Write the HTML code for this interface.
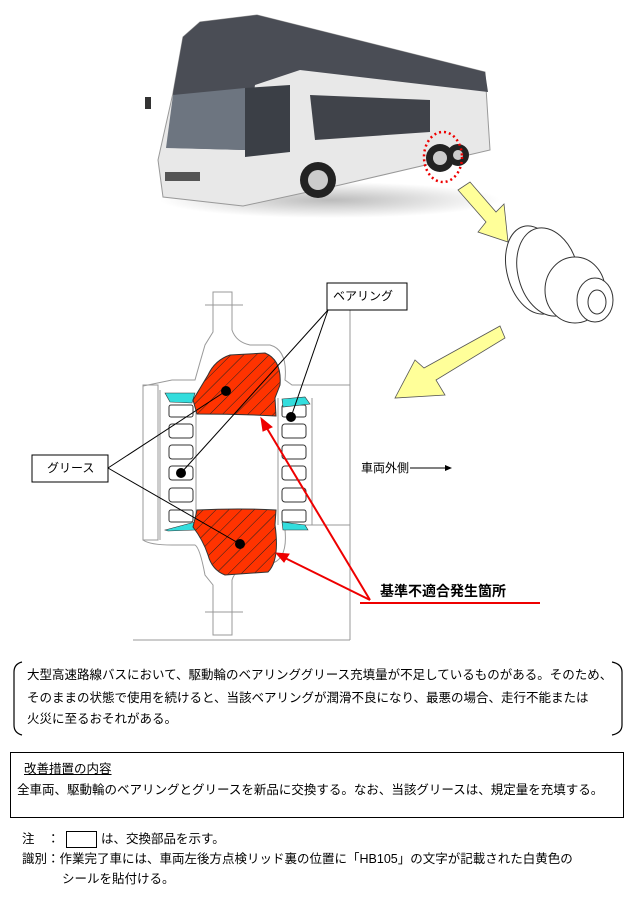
<!DOCTYPE html>
<html><head><meta charset="utf-8"><style>
body{margin:0;background:#fff;width:633px;height:907px;position:relative;overflow:hidden;font-family:"Liberation Sans","Noto Sans CJK JP",sans-serif;color:#000}
.t{position:absolute;font-size:12.5px;white-space:nowrap;line-height:20px}
</style></head><body>
<svg width="633" height="907" style="position:absolute;left:0;top:0">
<defs>
<pattern id="h" width="9" height="9" patternUnits="userSpaceOnUse" patternTransform="rotate(45)"><rect width="9" height="9" fill="#ff3300"/><line x1="0" y1="0" x2="0" y2="9" stroke="#222" stroke-width="1"/></pattern>
<radialGradient id="sh"><stop offset="0" stop-color="#bbb"/><stop offset="1" stop-color="#fff"/></radialGradient>
</defs>
<!-- bus -->
<ellipse cx="330" cy="200" rx="170" ry="18" fill="url(#sh)"/>
<polygon points="183,37 200,22 257,15 485,72 490,150 340,185 243,206 163,197 158,160 173,93" fill="#e8e8e8" stroke="#999" stroke-width="1"/>
<polygon points="183,37 200,22 257,15 485,72 488,92 300,70 255,85 245,150 175,148 173,93" fill="#4a4d55"/>
<polygon points="173,95 245,88 245,150 166,148" fill="#6d7580"/>
<polygon points="245,88 290,85 290,152 245,157" fill="#3b3f46"/>
<polygon points="310,95 430,100 430,132 315,140" fill="#40434a"/>
<rect x="165" y="172" width="35" height="9" fill="#555"/>
<rect x="145" y="97" width="6" height="12" fill="#333"/>
<circle cx="318" cy="180" r="18" fill="#222"/><circle cx="318" cy="180" r="10" fill="#ccc"/>
<circle cx="440" cy="158" r="14" fill="#222"/><circle cx="440" cy="158" r="7" fill="#ccc"/>
<circle cx="458" cy="155" r="11" fill="#222"/><circle cx="458" cy="155" r="5" fill="#ccc"/>
<ellipse cx="443" cy="157" rx="19" ry="25" fill="none" stroke="#e00" stroke-width="2.5" stroke-dasharray="2,3"/>
<!-- small yellow arrow -->
<polygon points="458,190 470,182 496,212 504,204 508,242 478,232 486,222" fill="#ffff99" stroke="#555" stroke-width="0.8"/>
<!-- hub -->
<g fill="#fff" stroke="#333" stroke-width="1">
<ellipse cx="535" cy="270" rx="28" ry="45" transform="rotate(-15 535 270)"/>
<ellipse cx="548" cy="272" rx="30" ry="45" transform="rotate(-15 548 272)"/>
<ellipse cx="575" cy="290" rx="30" ry="33"/>
<ellipse cx="595" cy="300" rx="18" ry="22"/>
<ellipse cx="597" cy="302" rx="9" ry="12"/>
</g>
<!-- big yellow arrow -->
<polygon points="500,326 505,338 436,380 445,395 395,398 415,360 424,368" fill="#ffff99" stroke="#555" stroke-width="0.8"/>
<!-- bearing drawing -->
<g fill="none" stroke="#999" stroke-width="1">
<path d="M213,292 L232,292 L232,330 Q236,342 250,345 L270,345 Q288,350 285,380 L292,385 L350,385 L350,525 L292,525 L285,530 Q288,560 270,564 L250,564 Q236,568 232,580 L232,635 L213,635 L213,585 L205,575 Q200,548 195,545 L172,545 Q150,545 143,540 L143,386 L172,380 L195,380 Q200,362 205,345 L213,332 Z"/>
<line x1="205" y1="305" x2="243" y2="305"/><line x1="205" y1="612" x2="243" y2="612"/>
<line x1="350" y1="305" x2="350" y2="640"/><line x1="133" y1="640" x2="350" y2="640"/>
<rect x="143" y="385" width="15" height="155"/>
<line x1="160" y1="390" x2="160" y2="540"/><line x1="196" y1="400" x2="196" y2="525"/>
<line x1="278" y1="398" x2="278" y2="525"/><line x1="312" y1="398" x2="312" y2="525"/>
</g>
<g fill="#fff" stroke="#333" stroke-width="1">
<rect x="169" y="405" width="24" height="12" rx="2"/><rect x="169" y="424" width="24" height="14" rx="3"/><rect x="169" y="445" width="24" height="14" rx="3"/><rect x="169" y="466" width="24" height="14" rx="3"/><rect x="169" y="488" width="24" height="14" rx="3"/><rect x="169" y="510" width="24" height="12" rx="2"/>
<rect x="282" y="405" width="24" height="12" rx="2"/><rect x="282" y="424" width="24" height="14" rx="3"/><rect x="282" y="445" width="24" height="14" rx="3"/><rect x="282" y="466" width="24" height="14" rx="3"/><rect x="282" y="488" width="24" height="14" rx="3"/><rect x="282" y="510" width="24" height="12" rx="2"/>
</g>
<g fill="#33dddd" stroke="#333" stroke-width="0.6">
<polygon points="165,393 195,393 192,403 170,402"/><polygon points="282,399 305,397 310,404 283,407"/>
<polygon points="165,530 195,522 195,530 168,531"/><polygon points="282,522 305,525 308,530 283,530"/>
</g>
<path d="M193,400 Q202,385 208,375 Q215,360 230,355 L265,353 Q282,360 280,385 L275,398 L276,416 Q240,414 197,414 Z" fill="url(#h)" stroke="#333"/>
<path d="M197,510 Q240,508 276,510 L275,525 Q280,560 268,572 L225,575 Q212,570 208,555 Q203,540 193,527 Z" fill="url(#h)" stroke="#333"/>
<g fill="#000"><circle cx="226" cy="391" r="5"/><circle cx="291" cy="417" r="5"/><circle cx="181" cy="473" r="5"/><circle cx="240" cy="544" r="5"/></g>
<g stroke="#000" stroke-width="1"><line x1="328" y1="310" x2="181" y2="473"/><line x1="328" y1="310" x2="291" y2="417"/><line x1="108" y1="468" x2="226" y2="391"/><line x1="108" y1="468" x2="240" y2="544"/></g>
<rect x="327" y="283" width="80" height="27" fill="#fff" stroke="#000"/>
<rect x="32" y="455" width="76" height="27" fill="#fff" stroke="#000"/>
<g stroke="#e00" stroke-width="2" fill="#e00">
<line x1="370" y1="600" x2="265" y2="425"/><polygon points="261,418 272,427 263,431" stroke-width="1"/>
<line x1="370" y1="600" x2="283" y2="557"/><polygon points="276,553 289,554 284,562" stroke-width="1"/>
<line x1="360" y1="603" x2="540" y2="603"/>
</g>
<line x1="410" y1="468" x2="448" y2="468" stroke="#000"/><polygon points="452,468 445,465 445,471" fill="#000"/>
<!-- bracket -->
<path d="M22,662 Q14,664 14,672 L14,725 Q14,733 22,735" fill="none" stroke="#000" stroke-width="1.2"/>
<path d="M612,662 Q622,664 622,672 L622,725 Q622,733 612,735" fill="none" stroke="#000" stroke-width="1.2"/>
<rect x="10.5" y="752.5" width="613" height="65" fill="none" stroke="#000"/>
<rect x="66.5" y="831.5" width="30" height="16" fill="none" stroke="#000"/>
</svg>
<div class="t" style="left:333px;top:286px;font-size:12px">ベアリング</div>
<div class="t" style="left:47px;top:458px;font-size:12px">グリース</div>
<div class="t" style="left:361px;top:458px;font-size:12px">車両外側</div>
<div class="t" style="left:380px;top:581px;font-size:14px;font-weight:bold">基準不適合発生箇所</div>
<div class="t" style="left:27px;top:665px">大型高速路線バスにおいて、駆動輪のベアリンググリース充填量が不足しているものがある。そのため、</div>
<div class="t" style="left:27px;top:688px">そのままの状態で使用を続けると、当該ベアリングが潤滑不良になり、最悪の場合、走行不能または</div>
<div class="t" style="left:27px;top:709px">火災に至るおそれがある。</div>
<div class="t" style="left:24px;top:759px;text-decoration:underline">改善措置の内容</div>
<div class="t" style="left:17px;top:780px">全車両、駆動輪のベアリングとグリースを新品に交換する。なお、当該グリースは、規定量を充填する。</div>
<div class="t" style="left:22px;top:829px">注　：</div>
<div class="t" style="left:101px;top:829px">は、交換部品を示す。</div>
<div class="t" style="left:22px;top:849px">識別：作業完了車には、車両左後方点検リッド裏の位置に「HB105」の文字が記載された白黄色の</div>
<div class="t" style="left:62px;top:869px">シールを貼付ける。</div>
</body></html>
